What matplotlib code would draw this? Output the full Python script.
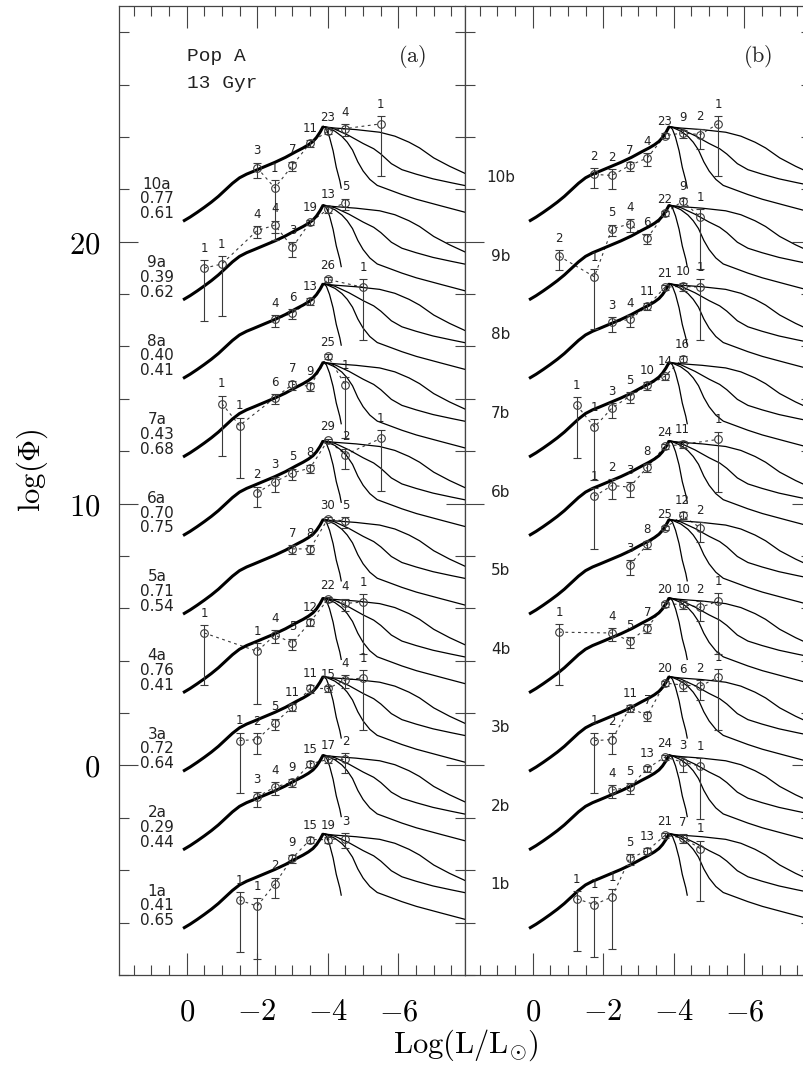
import numpy as np
import matplotlib
matplotlib.use('Agg')
import matplotlib.pyplot as plt
from matplotlib.ticker import MultipleLocator, FixedLocator

plt.rcParams['mathtext.fontset'] = 'cm'
plt.rcParams['font.family'] = ['DejaVu Sans']

# ---------------- model curves (log Phi before vertical offset) ----------------
thick_x = [0.1, -0.1, -0.3, -0.5, -0.7, -0.9, -1.1, -1.3, -1.5, -1.7, -1.9, -2.2, -2.5, -2.8,
           -3.1, -3.3, -3.45, -3.58, -3.68, -3.78, -3.87]
thick_y = [-6.22, -6.06, -5.88, -5.69, -5.49, -5.27, -5.02, -4.77, -4.56, -4.42, -4.31, -4.14,
           -3.97, -3.78, -3.56, -3.42, -3.30, -3.17, -3.02, -2.82, -2.60]

thin_s_x = [-3.87, -3.96, -4.05, -4.15, -4.24, -4.34, -4.38]
thin_s_y = [-2.60, -2.70, -3.02, -3.53, -4.16, -4.67, -4.95]
thin_a_x = [-3.87, -4.0, -4.2, -4.4, -4.55, -4.7, -4.85, -5.0, -5.19, -5.4, -5.66, -6.1, -6.51, -7.2, -7.9]
thin_a_y = [-2.60, -2.66, -2.78, -2.98, -3.2, -3.5, -3.95, -4.3, -4.62, -4.85, -4.98, -5.2, -5.38, -5.63, -5.88]
thin_b_x = [-3.87, -4.0, -4.2, -4.6, -5.0, -5.3, -5.5, -5.8, -6.1, -6.5, -6.98, -7.5, -7.9]
thin_b_y = [-2.60, -2.64, -2.70, -2.95, -3.25, -3.45, -3.65, -4.02, -4.25, -4.42, -4.6, -4.75, -4.86]
thin_c_x = [-3.87, -4.0, -4.2, -4.8, -5.47, -5.9, -6.3, -6.6, -7.0, -7.45, -7.9]
thin_c_y = [-2.60, -2.63, -2.66, -2.72, -2.82, -2.97, -3.2, -3.42, -3.8, -4.12, -4.4]

# ---------------- panel (a) ----------------
a_names = ['1a', '2a', '3a', '4a', '5a', '6a', '7a', '8a', '9a', '10a']
a_par1 = ['0.41', '0.29', '0.72', '0.76', '0.71', '0.70', '0.43', '0.40', '0.39', '0.77']
a_par2 = ['0.65', '0.44', '0.64', '0.41', '0.54', '0.75', '0.68', '0.41', '0.62', '0.61']

a1_x = [-1.5, -2, -2.5, -3, -3.5, -4, -4.5]
a1_y = [-5.14, -5.37, -4.52, -3.53, -2.83, -2.83, -2.79]
a1_n = [1, 1, 2, 9, 15, 19, 3]
a2_x = [-2, -2.5, -3, -3.5, -4, -4.5]
a2_y = [-4.20, -3.82, -3.64, -2.94, -2.77, -2.77]
a2_n = [3, 4, 9, 15, 17, 2]
a3_x = [-1.5, -2, -2.5, -3, -3.5, -4, -4.5, -5]
a3_y = [-5.05, -5.01, -4.37, -3.77, -3.06, -3.06, -2.74, -2.65]
a3_n = [1, 2, 5, 11, 11, 15, 4, 1]
a4_x = [-0.5, -2, -2.5, -3, -3.5, -4, -4.5, -5]
a4_y = [-3.94, -4.64, -4.02, -4.32, -3.52, -2.66, -2.81, -2.76]
a4_n = [1, 1, 4, 5, 12, 22, 4, 1]
a5_x = [-3, -3.5, -4, -4.5]
a5_y = [-3.73, -3.73, -2.58, -2.67]
a5_n = [7, 8, 30, 5]
a6_x = [-2, -2.5, -3, -3.5, -4, -4.5, -5.5]
a6_y = [-4.59, -4.17, -3.83, -3.64, -2.59, -3.13, -2.51]
a6_n = [2, 3, 5, 8, 29, 2, 1]
a7_x = [-1, -1.5, -2.5, -3, -3.5, -4, -4.5]
a7_y = [-4.18, -5.02, -3.96, -3.45, -3.52, -2.37, -3.48]
a7_n = [1, 1, 6, 7, 9, 25, 1]
a8_x = [-2.5, -3, -3.5, -4, -5]
a8_y = [-3.97, -3.72, -3.27, -2.44, -2.74]
a8_n = [4, 6, 13, 26, 1]
a9_x = [-0.5, -1, -2, -2.5, -3, -3.5, -4, -4.5]
a9_y = [-5.01, -4.85, -3.57, -3.37, -4.21, -3.25, -2.77, -2.52]
a9_n = [1, 1, 4, 4, 3, 19, 13, 5]
a10_x = [-2, -2.5, -3, -3.5, -4, -4.5, -5.5]
a10_y = [-4.18, -4.95, -4.08, -3.23, -2.78, -2.68, -2.50]
a10_n = [3, 1, 7, 11, 23, 4, 1]

# ---------------- panel (b) ----------------
b_names = ['1b', '2b', '3b', '4b', '5b', '6b', '7b', '8b', '9b', '10b']

b1_x = [-1.25, -1.75, -2.25, -2.75, -3.25, -3.75, -4.25, -4.75]
b1_y = [-5.09, -5.31, -5.02, -3.55, -3.25, -2.67, -2.76, -3.17]
b1_n = [1, 1, 1, 5, 13, 21, 7, 1]
b2_x = [-2.25, -2.75, -3.25, -3.75, -4.25, -4.75]
b2_y = [-3.94, -3.83, -3.11, -2.68, -2.87, -3.03]
b2_n = [4, 5, 13, 24, 3, 1]
b3_x = [-1.75, -2.25, -2.75, -3.25, -3.75, -4.25, -4.75, -5.25]
b3_y = [-5.05, -5.01, -3.80, -4.09, -2.85, -2.93, -2.97, -2.63]
b3_n = [1, 2, 11, 7, 20, 6, 2, 1]
b4_x = [-0.75, -2.25, -2.75, -3.25, -3.75, -4.25, -4.75, -5.25]
b4_y = [-3.91, -3.94, -4.25, -3.75, -2.83, -2.85, -2.96, -2.73]
b4_n = [1, 4, 5, 7, 20, 10, 2, 1]
b5_x = [-2.75, -3.25, -3.75, -4.25, -4.75]
b5_y = [-4.35, -3.56, -2.93, -2.45, -2.93]
b5_n = [3, 8, 25, 12, 2]
b6_x = [-1.75, -2.25, -2.75, -3.25, -3.75, -4.25, -5.25]
b6_y = [-4.72, -4.31, -4.37, -3.61, -2.81, -2.74, -2.55]
b6_n = [1, 2, 3, 8, 24, 11, 1]
b7_x = [-1.25, -1.75, -2.25, -2.75, -3.25, -3.75, -4.25]
b7_y = [-4.24, -5.08, -4.35, -3.90, -3.49, -3.14, -2.46]
b7_n = [1, 1, 3, 5, 10, 14, 16]
b8_x = [-2.25, -2.75, -3.25, -3.75, -4.25, -4.75]
b8_y = [-4.07, -3.97, -3.46, -2.74, -2.70, -2.74]
b8_n = [3, 4, 11, 21, 10, 1]
b9_x = [-0.75, -1.75, -2.25, -2.75, -3.25, -3.75, -4.25, -4.75]
b9_y = [-4.55, -5.34, -3.51, -3.32, -3.86, -2.92, -2.45, -3.06]
b9_n = [2, 1, 5, 4, 6, 22, 9, 1]
b10_x = [-1.75, -2.25, -2.75, -3.25, -3.75, -4.25, -4.75, -5.25]
b10_y = [-4.43, -4.47, -4.09, -3.80, -2.95, -2.85, -2.91, -2.50]
b10_n = [2, 2, 7, 4, 23, 9, 2, 1]

set_step = 3.0            # vertical shift between successive sets
single_count_lower = 2.0  # length of the lower bar drawn for a single star

a_sets = [(a1_x, a1_y, a1_n), (a2_x, a2_y, a2_n), (a3_x, a3_y, a3_n), (a4_x, a4_y, a4_n),
          (a5_x, a5_y, a5_n), (a6_x, a6_y, a6_n), (a7_x, a7_y, a7_n), (a8_x, a8_y, a8_n),
          (a9_x, a9_y, a9_n), (a10_x, a10_y, a10_n)]
b_sets = [(b1_x, b1_y, b1_n), (b2_x, b2_y, b2_n), (b3_x, b3_y, b3_n), (b4_x, b4_y, b4_n),
          (b5_x, b5_y, b5_n), (b6_x, b6_y, b6_n), (b7_x, b7_y, b7_n), (b8_x, b8_y, b8_n),
          (b9_x, b9_y, b9_n), (b10_x, b10_y, b10_n)]

W_, H_ = 804, 1068
fig = plt.figure(figsize=(W_ / 100, H_ / 100), dpi=100)
L = 119.5 / W_
Wd = 346 / W_
B = 93 / H_
Ht = 969 / H_
axa = fig.add_axes([L, B, Wd, Ht])
axb = fig.add_axes([L + Wd, B, Wd, Ht])

ink = '#222222'
gray = '#3a3a3a'


def poisson_err(n):
    n = np.asarray(n, dtype=float)
    up = np.log10(1 + 1 / np.sqrt(n))
    lo = np.where(n > 1, -np.log10(np.clip(1 - 1 / np.sqrt(n), 1e-9, None)), single_count_lower)
    return lo, up


def draw_panel(ax, sets):
    for k, (xs, ys, ns) in enumerate(sets):
        off = set_step * k
        ax.plot(thick_x, np.array(thick_y) + off, color='black', lw=2.2,
                solid_capstyle='butt', solid_joinstyle='round', zorder=3)
        for tx, ty in [(thin_s_x, thin_s_y), (thin_a_x, thin_a_y), (thin_b_x, thin_b_y), (thin_c_x, thin_c_y)]:
            ax.plot(tx, np.array(ty) + off, color='black', lw=0.9, solid_joinstyle='round', zorder=3)
        yy = np.array(ys) + off
        lo, up = poisson_err(ns)
        ax.plot(xs, yy, ls=(0, (2.5, 3.2)), color=gray, lw=0.8, zorder=2)
        ax.errorbar(xs, yy, yerr=[lo, up], fmt='o', mfc='none', mec=gray, ms=5.5, mew=0.8,
                    ecolor=gray, elinewidth=0.8, capsize=2.6, capthick=0.8, zorder=4)
        for x, y, u, n in zip(xs, yy, up, ns):
            ax.annotate(str(n), (x, y + u), xytext=(0, 8.5), textcoords='offset points',
                        ha='center', va='center', fontsize=8.5, color=ink, zorder=5)


draw_panel(axa, a_sets)
draw_panel(axb, b_sets)

base0 = thick_y[0]
for k in range(10):
    off = set_step * k
    axa.text(0.84, base0 + off + 1.42, a_names[k], ha='center', va='center', fontsize=11, color=ink)
    axa.text(0.84, base0 + off + 0.86, a_par1[k], ha='center', va='center', fontsize=11, color=ink)
    axa.text(0.84, base0 + off + 0.29, a_par2[k], ha='center', va='center', fontsize=11, color=ink)
    axb.text(0.91, base0 + off + 1.66, b_names[k], ha='center', va='center', fontsize=11, color=ink)

axa.text(0.0, 27.08, 'Pop A', family='Liberation Mono', fontsize=14, ha='left', va='center', color=ink)
axa.text(0.0, 26.05, '13 Gyr', family='Liberation Mono', fontsize=14, ha='left', va='center', color=ink)
axa.text(-6.38, 27.08, r'$\mathrm{(a)}$', fontsize=16, ha='center', va='center', color=ink)
axb.text(-6.38, 27.08, r'$\mathrm{(b)}$', fontsize=16, ha='center', va='center', color=ink)

for ax in (axa, axb):
    ax.set_xlim(1.9, -7.9)
    ax.set_ylim(-8, 29)
    ax.xaxis.set_major_locator(FixedLocator([0, -2, -4, -6]))
    ax.xaxis.set_minor_locator(MultipleLocator(0.5))
    ax.yaxis.set_major_locator(FixedLocator([0, 10, 20]))
    ax.yaxis.set_minor_locator(MultipleLocator(2))
    ax.tick_params(which='both', direction='in', top=True, right=True, color='#444444', width=0.8)
    ax.tick_params(axis='x', which='major', length=15.5, pad=16, labelsize=22)
    ax.tick_params(axis='y', which='major', length=14, pad=14, labelsize=22)
    ax.tick_params(which='minor', length=7)
    ax.set_xticklabels([r'$0$', r'$-2$', r'$-4$', r'$-6$'])
    for s in ax.spines.values():
        s.set_color('#444444')
        s.set_linewidth(0.9)

axa.set_yticklabels([r'$0$', r'$10$', r'$20$'])
axb.tick_params(axis='y', labelleft=False)

fig.text(466 / W_, 1 - 1045 / H_, r'$\mathrm{Log(L/L_{\odot})}$', ha='center', va='center', fontsize=22)
fig.text(32 / W_, 1 - 470 / H_, r'$\log(\Phi)$', rotation=90, ha='center', va='center', fontsize=22)

fig.savefig('out.png', dpi=100)
